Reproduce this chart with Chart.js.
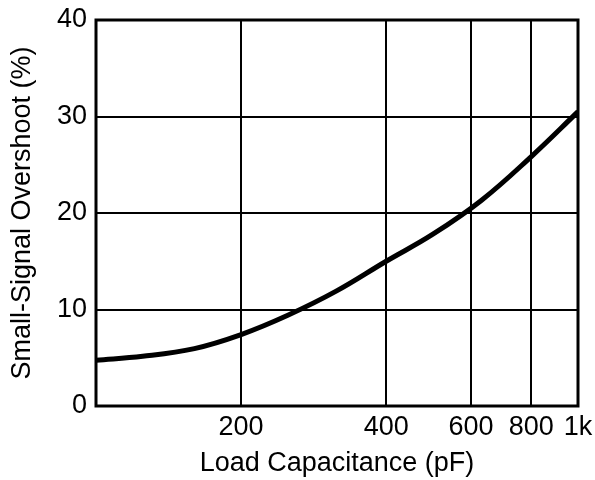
<!DOCTYPE html>
<html>
<head>
<meta charset="utf-8">
<script src="https://cdn.jsdelivr.net/npm/chart.js@4/dist/chart.umd.min.js"></script>
<style>
  html, body { margin: 0; padding: 0; background: #fff; }
  #wrap { width: 595px; height: 480px; }
</style>
</head>
<body>
<div id="wrap"><canvas id="overshoot"></canvas></div>
<script>
// load capacitance (pF) vs small-signal overshoot (%)
const loadCap = [100, 125, 160, 200, 250, 315, 400, 500, 630, 800, 1000];
const overshoot = [4.75, 5.15, 5.95, 7.4, 9.4, 11.9, 15.0, 17.8, 21.3, 25.85, 30.5];
const xTicks = [100, 200, 400, 600, 800, 1000];
const yTicks = [0, 10, 20, 30, 40];

const font = { family: "'Liberation Sans', Arial, sans-serif", size: 27 };

// heavy frame round the plot area
const framePlugin = {
  id: 'frame',
  afterDraw(chart) {
    const a = chart.chartArea, c = chart.ctx;
    c.save();
    c.strokeStyle = '#000';
    c.lineWidth = 3;
    c.strokeRect(a.left, a.top, a.right - a.left, a.bottom - a.top);
    c.restore();
  }
};

new Chart(document.getElementById('overshoot'), {
  type: 'line',
  data: {
    datasets: [{
      data: loadCap.map((x, i) => ({ x: x, y: overshoot[i] })),
      borderColor: '#000',
      borderWidth: 5,
      pointRadius: 0,
      tension: 0.4,
      fill: false
    }]
  },
  options: {
    responsive: true,
    maintainAspectRatio: false,
    animation: false,
    layout: { padding: { top: 20, right: 17, left: 0, bottom: 0 } },
    plugins: { legend: { display: false }, tooltip: { enabled: false } },
    scales: {
      x: {
        type: 'logarithmic',
        min: 100,
        max: 1000,
        afterBuildTicks: s => { s.ticks = xTicks.map(v => ({ value: v })); },
        afterFit: s => { s.height = 74; s.paddingLeft = 0; s.paddingRight = 0; },
        grid: { color: '#000', lineWidth: 2, drawTicks: false },
        border: { display: false },
        ticks: {
          color: '#000',
          font: font,
          padding: 5,
          maxRotation: 0,
          autoSkip: false,
          callback: v => v === 100 ? '' : (v === 1000 ? '1k' : String(v))
        },
        title: { display: true, text: 'Load Capacitance (pF)', color: '#000', font: font, padding: { top: 0, bottom: 0 } }
      },
      y: {
        min: 0,
        max: 40,
        afterBuildTicks: s => { s.ticks = yTicks.map(v => ({ value: v })); },
        afterFit: s => { s.width = 96; s.paddingTop = 0; s.paddingBottom = 0; },
        grid: { color: '#000', lineWidth: 2, drawTicks: false },
        border: { display: false },
        ticks: { color: '#000', font: font, padding: 9 },
        title: { display: true, text: 'Small-Signal Overshoot (%)', color: '#000', font: font, padding: { top: 6, bottom: 0 } }
      }
    }
  },
  plugins: [framePlugin]
});
</script>
</body>
</html>
